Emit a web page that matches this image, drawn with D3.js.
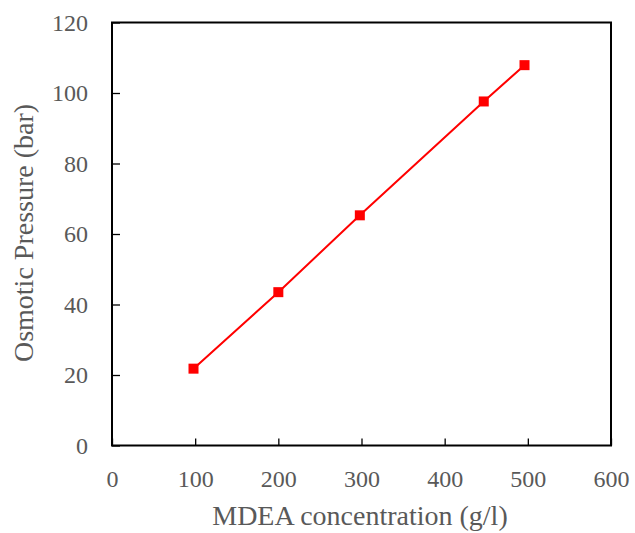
<!DOCTYPE html>
<html>
<head>
<meta charset="utf-8">
<script src="https://cdn.jsdelivr.net/npm/d3@7"></script>
<style>
  body { margin: 0; background: #fff; }
  text { font-family: "Liberation Serif", "Times New Roman", serif; }
</style>
</head>
<body>
<div id="chart"></div>
<script>
// MDEA concentration vs osmotic pressure

const concentration = [98, 200, 298, 447, 496];   // g/l
const pressure = [21.8, 43.5, 65.3, 97.6, 107.9]; // bar
const xTicks = [0, 100, 200, 300, 400, 500, 600];
const yTicks = [0, 20, 40, 60, 80, 100, 120];

const width = 635, height = 533;
const margin = { left: 112, right: 24, top: 22.5, bottom: 87.5 };

const svg = d3.select('#chart').append('svg')
  .attr('width', width)
  .attr('height', height);

const x = d3.scaleLinear().domain([0, 600]).range([margin.left, width - margin.right]);
const y = d3.scaleLinear().domain([0, 120]).range([height - margin.bottom, margin.top]);

// frame
svg.append('rect')
  .attr('x', x(0)).attr('y', y(120))
  .attr('width', x(600) - x(0)).attr('height', y(0) - y(120))
  .attr('fill', 'none').attr('stroke', '#000').attr('stroke-width', 2);

// x axis (ticks point inward)
const xAxis = svg.append('g')
  .attr('transform', `translate(0,${y(0)})`)
  .call(d3.axisBottom(x).tickValues(xTicks).tickSize(-7).tickPadding(24));
xAxis.select('.domain').remove();
xAxis.selectAll('line').attr('stroke', '#000').attr('stroke-width', 1.3);
xAxis.selectAll('text').attr('font-size', 24).attr('fill', '#595959')
  .attr('font-family', '"Liberation Serif", serif');

// y axis
const yAxis = svg.append('g')
  .attr('transform', `translate(${x(0)},0)`)
  .call(d3.axisLeft(y).tickValues(yTicks).tickSize(-8).tickPadding(24));
yAxis.select('.domain').remove();
yAxis.selectAll('line').attr('stroke', '#000').attr('stroke-width', 1.3);
yAxis.selectAll('text').attr('font-size', 24).attr('fill', '#595959')
  .attr('font-family', '"Liberation Serif", serif');

// axis titles
svg.append('text')
  .attr('x', 360).attr('y', 525)
  .attr('text-anchor', 'middle')
  .attr('font-size', 28).attr('fill', '#595959')
  .text('MDEA concentration (g/l)');

svg.append('text')
  .attr('transform', 'translate(33,233) rotate(-90)')
  .attr('text-anchor', 'middle')
  .attr('font-size', 28).attr('fill', '#595959')
  .text('Osmotic Pressure (bar)');

const pts = concentration.map((c, i) => [c, pressure[i]]);

// line through the points
svg.append('path')
  .datum(pts)
  .attr('fill', 'none')
  .attr('stroke', '#ff0000')
  .attr('stroke-width', 2)
  .attr('d', d3.line().x(d => x(d[0])).y(d => y(d[1])));

// square markers
svg.selectAll('rect.pt')
  .data(pts)
  .enter().append('rect')
  .attr('class', 'pt')
  .attr('x', d => x(d[0]) - 5)
  .attr('y', d => y(d[1]) - 5)
  .attr('width', 10).attr('height', 10)
  .attr('fill', '#ff0000');
</script>
</body>
</html>
